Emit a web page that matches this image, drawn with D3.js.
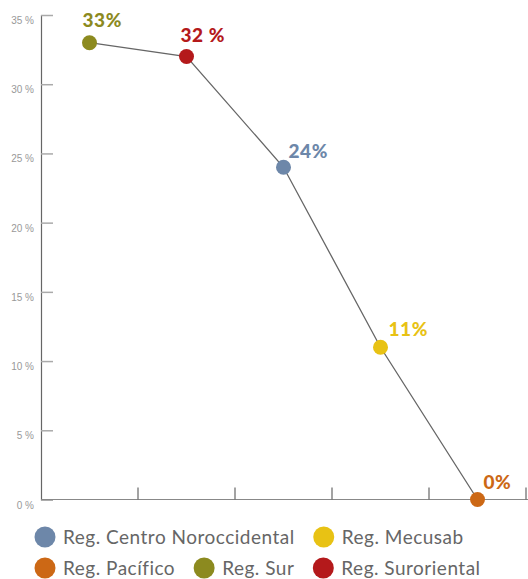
<!DOCTYPE html>
<html>
<head>
<meta charset="utf-8">
<script src="https://cdn.jsdelivr.net/npm/d3@7"></script>
<style>
  body { margin: 0; background: #fff; }
  svg { display: block; font-family: Lato, "Open Sans", sans-serif; }
</style>
</head>
<body>
<div class="vizHolder"></div>
<script>
var regions = ["Reg. Sur", "Reg. Suroriental", "Reg. Centro Noroccidental", "Reg. Mecusab", "Reg. Pacífico"];
var values = [33, 32, 24, 11, 0];
var labels = ["33%", "32 %", "24%", "11%", "0%"];
var colors = ["#8c8a1f", "#b4191b", "#6d87a9", "#e8c214", "#cc6815"];
var yTicks = [0, 5, 10, 15, 20, 25, 30, 35];
var legendOrder = ["Reg. Centro Noroccidental", "Reg. Mecusab", "Reg. Pacífico", "Reg. Sur", "Reg. Suroriental"];

var width = 528, height = 579;
var plot = {left: 41, right: 526, top: 15, bottom: 499.5};

var svg = d3.select(".vizHolder")
            .append("svg")
            .attr("width", width)
            .attr("height", height);

var xScale = d3.scaleBand()
               .domain(regions)
               .range([plot.left, plot.right]);
var yScale = d3.scaleLinear()
               .domain([0, 35])
               .range([plot.bottom, plot.top]);

var color = d3.scaleOrdinal().domain(regions).range(colors);

// y-axis
var yAxis = d3.axisRight(yScale)
              .tickValues(yTicks)
              .tickSize(12)
              .tickFormat(function(d) { return d + " %"; });
var gy = svg.append("g")
            .attr("transform", "translate(" + plot.left + ",0)")
            .call(yAxis);
gy.select(".domain").attr("stroke", "#666").attr("stroke-width", 1.2);
gy.selectAll(".tick line").attr("stroke", "#aaa").attr("stroke-width", 1.5);
gy.selectAll(".tick text")
  .attr("x", -7)
  .attr("dy", "0.85em")
  .attr("text-anchor", "end")
  .attr("fill", "#999")
  .style("font-size", "10px");

// x-axis: baseline plus ticks at band edges
var gx = svg.append("g")
            .attr("transform", "translate(0," + plot.bottom + ")");
gx.append("line")
  .attr("x1", plot.left).attr("x2", width)
  .attr("stroke", "#888").attr("stroke-width", 1.2);
gx.selectAll(".edge")
  .data(regions)
  .enter().append("line")
  .attr("class", "edge")
  .attr("x1", function(d) { return xScale(d) + xScale.bandwidth(); })
  .attr("x2", function(d) { return xScale(d) + xScale.bandwidth(); })
  .attr("y1", -12).attr("y2", 0)
  .attr("stroke", "#666").attr("stroke-width", 1.2);

var xMap = function(d, i) { return xScale(regions[i]) + xScale.bandwidth() / 2; };
var yMap = function(d) { return yScale(d); };

var line = d3.line()
             .x(function(d, i) { return xMap(d, i); })
             .y(yMap);

svg.append("path")
   .datum(values)
   .attr("d", line)
   .attr("fill", "none")
   .attr("stroke", "#666")
   .attr("stroke-width", 1.3);

svg.selectAll(".dot")
   .data(values)
   .enter().append("circle")
   .attr("class", "dot")
   .attr("r", 7.5)
   .attr("cx", xMap)
   .attr("cy", yMap)
   .style("fill", function(d, i) { return color(regions[i]); });

// value labels
var labelOffset = [[-7, -16], [-6, -15], [5, -9], [8, -11], [6, -11]];
svg.selectAll(".val")
   .data(values)
   .enter().append("text")
   .attr("class", "val")
   .attr("x", function(d, i) { return xMap(d, i) + labelOffset[i][0]; })
   .attr("y", function(d, i) { return yMap(d) + labelOffset[i][1]; })
   .style("font-size", "19px")
   .style("font-weight", "900")
   .style("letter-spacing", "0.6px")
   .style("fill", function(d, i) { return color(regions[i]); })
   .text(function(d, i) { return labels[i]; });

// legend, flowing across rows
var legend = svg.append("g").attr("class", "legend");
var lx = 34, ly = 537, rowH = 31, gap = 18;
legendOrder.forEach(function(name) {
    var g = legend.append("g");
    g.append("circle")
     .attr("cx", 11).attr("cy", 0).attr("r", 10.5)
     .style("fill", color(name));
    var t = g.append("text")
     .attr("x", 29).attr("dy", "0.35em")
     .style("font-size", "19px")
     .style("letter-spacing", "0.5px")
     .style("fill", "#666")
     .text(name);
    var w = 29 + t.node().getComputedTextLength();
    if (lx + w > width - 10) { lx = 34; ly += rowH; }
    g.attr("transform", "translate(" + lx + "," + ly + ")");
    lx += w + gap;
});
</script>
</body>
</html>
